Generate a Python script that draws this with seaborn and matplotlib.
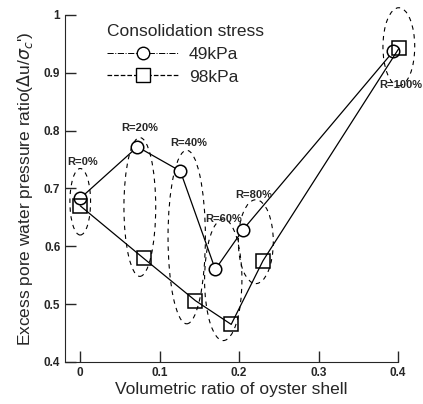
import matplotlib
matplotlib.use("Agg")
import matplotlib.pyplot as plt
from matplotlib.patches import Ellipse
from matplotlib.lines import Line2D
import seaborn as sns
import pandas as pd

# Data
x_49 = [0.0, 0.072, 0.126, 0.170, 0.205, 0.394]
y_49 = [0.683, 0.772, 0.730, 0.560, 0.629, 0.937]
x_98 = [0.0, 0.080, 0.145, 0.190, 0.230, 0.401]
y_98 = [0.670, 0.579, 0.506, 0.465, 0.575, 0.942]
series_names = ["49kPa", "98kPa"]
group_labels = ["R=0%", "R=20%", "R=40%", "R=60%", "R=80%", "R=100%"]
label_x = [-0.016, 0.075, 0.136, 0.181, 0.218, 0.404]
label_y = [0.746, 0.804, 0.778, 0.647, 0.689, 0.879]
ell_cx = [0.0, 0.075, 0.134, 0.180, 0.221, 0.401]
ell_cy = [0.677, 0.668, 0.616, 0.542, 0.608, 0.945]
ell_w = [0.026, 0.040, 0.047, 0.047, 0.044, 0.040]
ell_h = [0.115, 0.240, 0.300, 0.210, 0.145, 0.135]
x_ticks = [0, 0.1, 0.2, 0.3, 0.4]
x_ticklabels = ["0", "0.1", "0.2", "0.3", "0.4"]
y_ticks = [0.4, 0.5, 0.6, 0.7, 0.8, 0.9, 1.0]
y_ticklabels = ["0.4", "0.5", "0.6", "0.7", "0.8", "0.9", "1"]

sns.set_style("ticks")
plt.rcParams['font.family'] = ['Liberation Sans', 'DejaVu Sans']

fig = plt.figure(figsize=(4.23, 4.04), dpi=100)
ax = fig.add_axes([0.154, 0.104, 0.787, 0.859])

df49 = pd.DataFrame({"x": x_49, "y": y_49})
df98 = pd.DataFrame({"x": x_98, "y": y_98})
sns.lineplot(data=df49, x="x", y="y", sort=False, ax=ax, color="black", lw=0.9,
             marker="o", markersize=9, markerfacecolor="white", markeredgecolor="black",
             markeredgewidth=1.1, clip_on=False, zorder=3)
sns.lineplot(data=df98, x="x", y="y", sort=False, ax=ax, color="black", lw=0.9,
             marker="s", markersize=10, markerfacecolor="none", markeredgecolor="black",
             markeredgewidth=1.1, clip_on=False, zorder=3)

for cx, cy, w, h in zip(ell_cx, ell_cy, ell_w, ell_h):
    e = Ellipse((cx, cy), w, h, fill=False, ls=(0, (4, 4)), lw=0.8, ec="black", clip_on=False)
    ax.add_patch(e)

for lx, ly, t in zip(label_x, label_y, group_labels):
    ha = "left" if t == "R=0%" else "center"
    ax.text(lx, ly, t, fontsize=8, ha=ha, va="center", fontweight="bold")

ax.set_xlim(-0.019, 0.4)
ax.set_ylim(0.4, 1.0)
ax.set_xticks(x_ticks)
ax.set_xticklabels(x_ticklabels)
ax.set_yticks(y_ticks)
ax.set_yticklabels(y_ticklabels)
ax.tick_params(direction="in", length=8, width=1, labelsize=8.5)
for lab in ax.get_xticklabels() + ax.get_yticklabels():
    lab.set_fontweight("bold")
sns.despine(ax=ax)

ax.set_xlabel("Volumetric ratio of oyster shell", fontsize=12.5, labelpad=2)
ax.set_ylabel(r"Excess pore water pressure ratio($\Delta$u/$\sigma_c$')", fontsize=12.5, labelpad=6)

handles = [
    Line2D([], [], color="black", lw=0.7, ls="-.", marker="o", markersize=9,
           markerfacecolor="white", markeredgecolor="black"),
    Line2D([], [], color="black", lw=0.9, ls="--", marker="s", markersize=10,
           markerfacecolor="white", markeredgecolor="black"),
]
leg = ax.legend(handles, series_names, title="Consolidation stress", loc="upper left",
                bbox_to_anchor=(0.08, 1.02), frameon=False, fontsize=12.5,
                title_fontsize=12.5, handlelength=4.1, labelspacing=0.45, handletextpad=0.6)
leg._legend_box.align = "left"

fig.savefig("out.png", dpi=100)
